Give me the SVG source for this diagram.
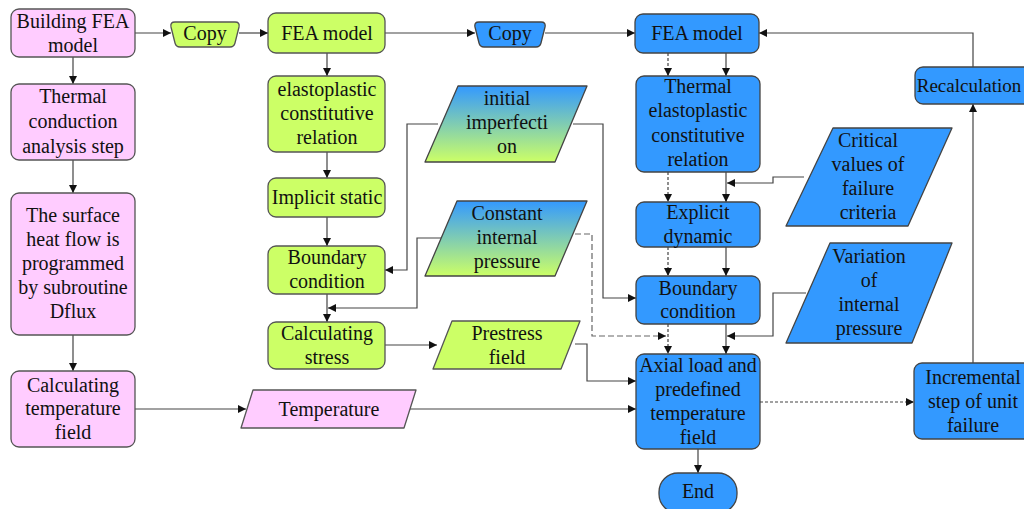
<svg xmlns="http://www.w3.org/2000/svg" width="1024" height="509" viewBox="0 0 1024 509">
<style>
text{font-family:"Liberation Serif","Times New Roman",serif;font-size:20px;fill:#111;text-anchor:middle}
.pk{fill:#ffccff;stroke:#555;stroke-width:1.3}
.gr{fill:#ccff66;stroke:#555;stroke-width:1.3}
.bl{fill:#3399ff;stroke:#444;stroke-width:1.3}
.gd{fill:url(#grad);stroke:#444;stroke-width:1.3}
.par{stroke-linejoin:round}
.c{fill:none;stroke:#444;stroke-width:1.2}
.a{marker-end:url(#arr)}
.d1{stroke-dasharray:3,2}
.d2{stroke-dasharray:6,3;stroke:#666}
</style>
<defs>
<marker id="arr" viewBox="0 0 10 10" refX="10" refY="5" markerWidth="9" markerHeight="8" markerUnits="userSpaceOnUse" orient="auto"><path d="M0,0 L10,5 L0,10 Z" fill="#111"/></marker>
<linearGradient id="grad" x1="0" y1="0" x2="0" y2="1"><stop offset="0" stop-color="#3399ff"/><stop offset="1" stop-color="#ccff66"/></linearGradient>
</defs>
<rect width="1024" height="509" fill="#fff"/>
<g id="connectors">
<path class="c a" d="M135,33 H171"/>
<path class="c a" d="M239,33 H268"/>
<path class="c a" d="M385,33 H475"/>
<path class="c a" d="M545,33 H635"/>
<path class="c a" d="M73,57 V84"/>
<path class="c a" d="M73,160 V193"/>
<path class="c a" d="M73,335 V371"/>
<path class="c a" d="M135,409 H246"/>
<path class="c a" d="M409,409 H636"/>
<path class="c a" d="M327,53 V76"/>
<path class="c a" d="M327,152 V178"/>
<path class="c a" d="M327,217 V246"/>
<path class="c a" d="M327,294 V322"/>
<path class="c a" d="M438,124 H407 V270 H385"/>
<path class="c a" d="M441,238 H417 V308 H328"/>
<path class="c a" d="M385,345 H437"/>
<path class="c a" d="M575,344 H587 V381 H636"/>
<path class="c a" d="M573,124 H603 V298 H636"/>
<path class="c a d2" d="M575,234 H592 V336 H666"/>
<path class="c a d1" d="M668,53 V76"/>
<path class="c a" d="M726,53 V76"/>
<path class="c a d1" d="M668,172 V202"/>
<path class="c a" d="M726,172 V202"/>
<path class="c a" d="M804,177 H773 V183 H727"/>
<path class="c a d1" d="M668,247 V276"/>
<path class="c a" d="M726,247 V276"/>
<path class="c a d1" d="M668,324 V354"/>
<path class="c a" d="M726,324 V354"/>
<path class="c a" d="M806,293 H773 V336 H727"/>
<path class="c a" d="M698,449 V473"/>
<path class="c a d1" d="M760,402 H914"/>
<path class="c a" d="M973,363 V104"/>
<path class="c a" d="M973,67 V33 H759"/>
</g>
<g id="n-building"><rect class="pk" x="11" y="9" width="124" height="48" rx="8"/><text x="73" y="28">Building FEA</text><text x="73" y="52">model</text></g>
<g id="n-thermal-cond"><rect class="pk" x="11" y="84" width="124" height="76" rx="8"/><text x="73" y="103">Thermal</text><text x="73" y="128">conduction</text><text x="73" y="153">analysis step</text></g>
<g id="n-dflux"><rect class="pk" x="11" y="193" width="124" height="142" rx="8"/><text x="73" y="222">The surface</text><text x="73" y="246">heat flow is</text><text x="73" y="270">programmed</text><text x="73" y="294">by subroutine</text><text x="73" y="318">Dflux</text></g>
<g id="n-calc-temp"><rect class="pk" x="11" y="371" width="124" height="76" rx="8"/><text x="73" y="392">Calculating</text><text x="73" y="415">temperature</text><text x="73" y="439">field</text></g>
<g id="n-copy1"><path class="gr" d="M175,22 H235 Q240,22 239,27 L235,43 Q234,47 230,47 H180 Q176,47 175,43 L171,27 Q170,22 175,22 Z"/><text x="205" y="40">Copy</text></g>
<g id="n-fea1"><rect class="gr" x="268" y="13" width="117" height="40" rx="8"/><text x="327" y="40">FEA model</text></g>
<g id="n-elasto"><rect class="gr" x="268" y="76" width="117" height="76" rx="8"/><text x="327" y="96">elastoplastic</text><text x="327" y="120">constitutive</text><text x="327" y="144">relation</text></g>
<g id="n-implicit"><rect class="gr" x="268" y="178" width="117" height="39" rx="8"/><text x="327" y="204">Implicit static</text></g>
<g id="n-bc1"><rect class="gr" x="268" y="246" width="117" height="48" rx="8"/><text x="327" y="264">Boundary</text><text x="327" y="288">condition</text></g>
<g id="n-calcstress"><rect class="gr" x="268" y="322" width="117" height="47" rx="8"/><text x="327" y="340">Calculating</text><text x="327" y="364">stress</text></g>
<g id="n-imperf"><polygon class="gd par" points="458,86 587,86 555,162 425,162"/><text x="507" y="105">initial</text><text x="507" y="129">imperfecti</text><text x="507" y="153">on</text></g>
<g id="n-constp"><polygon class="gd par" points="457,201 587,201 555,276 425,276"/><text x="507" y="220">Constant</text><text x="507" y="244">internal</text><text x="507" y="268">pressure</text></g>
<g id="n-prestress"><polygon class="gr par" points="452,321 580,321 561,369 433,369"/><text x="507" y="340">Prestress</text><text x="507" y="364">field</text></g>
<g id="n-temperature"><polygon class="pk par" points="253,390 416,390 404,428 241,428"/><text x="329" y="416">Temperature</text></g>
<g id="n-copy2"><path class="bl" d="M479,22 H541 Q546,22 545,27 L541,43 Q540,47 536,47 H484 Q480,47 479,43 L475,27 Q474,22 479,22 Z"/><text x="510" y="40">Copy</text></g>
<g id="n-fea2"><rect class="bl" x="635" y="14" width="124" height="39" rx="8"/><text x="697" y="40">FEA model</text></g>
<g id="n-thermal-elasto"><rect class="bl" x="636" y="76" width="124" height="96" rx="8"/><text x="698" y="93">Thermal</text><text x="698" y="117">elastoplastic</text><text x="698" y="142">constitutive</text><text x="698" y="166">relation</text></g>
<g id="n-explicit"><rect class="bl" x="636" y="202" width="124" height="45" rx="8"/><text x="698" y="219">Explicit</text><text x="698" y="243">dynamic</text></g>
<g id="n-bc2"><rect class="bl" x="636" y="276" width="124" height="48" rx="8"/><text x="698" y="295">Boundary</text><text x="698" y="318">condition</text></g>
<g id="n-axial"><rect class="bl" x="636" y="354" width="124" height="95" rx="8"/><text x="698" y="372">Axial load and</text><text x="698" y="396">predefined</text><text x="698" y="420">temperature</text><text x="698" y="444">field</text></g>
<g id="n-end"><rect class="bl" x="659" y="473" width="78" height="40" rx="19"/><text x="698" y="498">End</text></g>
<g id="n-critical"><polygon class="bl par" points="833,128 952,128 908,226 786,226"/><text x="868" y="147">Critical</text><text x="868" y="171">values of</text><text x="868" y="195">failure</text><text x="868" y="219">criteria</text></g>
<g id="n-variation"><polygon class="bl par" points="830,243 952,243 912,343 786,343"/><text x="869" y="263">Variation</text><text x="869" y="287">of</text><text x="869" y="311">internal</text><text x="869" y="335">pressure</text></g>
<g id="n-recalc"><rect class="bl" x="915" y="67" width="118" height="37" rx="8"/><text x="969" y="92" style="font-size:19px">Recalculation</text></g>
<g id="n-incremental"><rect class="bl" x="914" y="363" width="118" height="76" rx="8"/><text x="973" y="384">Incremental</text><text x="973" y="408">step of unit</text><text x="973" y="432">failure</text></g>
</svg>
